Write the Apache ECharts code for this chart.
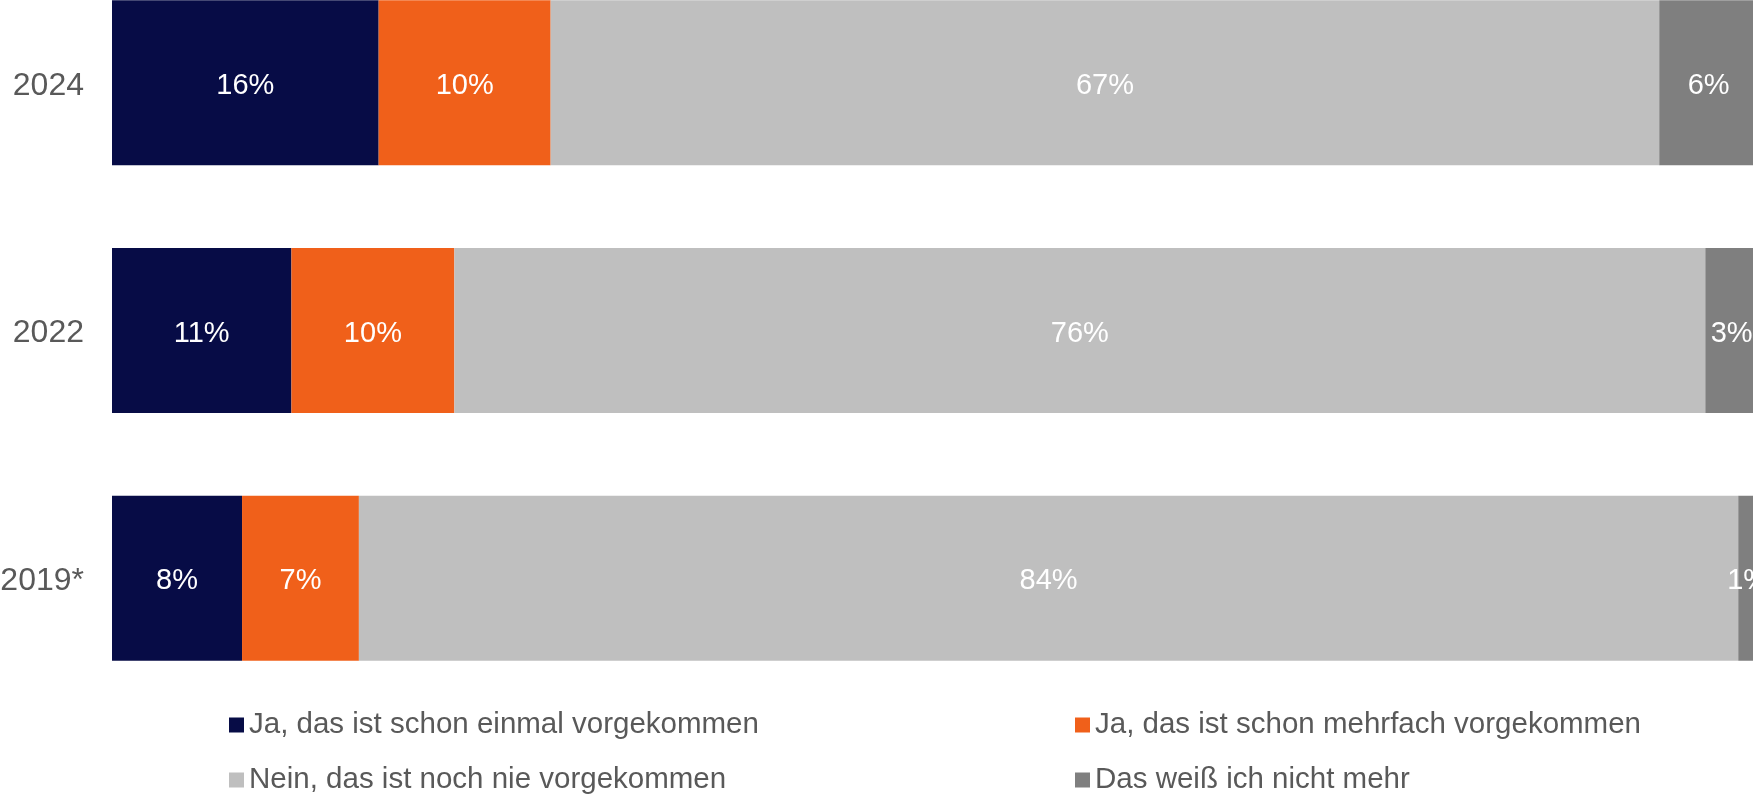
<!DOCTYPE html>
<html lang="de">
<head>
    <meta charset="UTF-8">
    <title>Vorfälle</title>
    <script type="text/javascript" src="https://cdn.jsdelivr.net/npm/echarts@6/dist/echarts.min.js"></script>
    <style>
        html, body { margin: 0; padding: 0; background: #fff; }
        #main { width: 1753px; height: 795px; }
    </style>
</head>
<body>
<div id="main"></div>
<script type="text/javascript">
    // Jahre (von oben nach unten)
    var years = ['2024', '2022', '2019*'];

    // Anteile in %
    var einmal = [16.2, 10.9, 7.9];
    var mehrfach = [10.45, 9.9, 7.1];
    var nie = [67.35, 76.0, 83.8];
    var weissNicht = [6.0, 3.2, 1.2];

    var names = [
        'Ja, das ist schon einmal vorgekommen',
        'Ja, das ist schon mehrfach vorgekommen',
        'Nein, das ist noch nie vorgekommen',
        'Das weiß ich nicht mehr'
    ];
    var colors = ['#070c46', '#f0601a', '#bfbfbf', '#7f7f7f'];

    const myChart = echarts.init(document.getElementById('main'));

    function bar(name, data, color) {
        return {
            name: name,
            type: 'bar',
            stack: 'total',
            barWidth: 165,
            data: data,
            itemStyle: { color: color },
            label: {
                show: true,
                position: 'inside',
                offset: [0, 3],
                color: '#ffffff',
                fontSize: 29,
                fontFamily: 'Liberation Sans, Arial, sans-serif',
                formatter: function (p) {
                    return Math.round(p.value) + '%';
                }
            },
            emphasis: { disabled: true }
        };
    }

    // ein Legendeneintrag pro Position (2 Spalten x 2 Zeilen)
    function legendItem(name, left, top) {
        return {
            data: [name],
            left: left,
            top: top,
            padding: 0,
            itemWidth: 15,
            itemHeight: 15,
            icon: 'rect',
            textStyle: {
                color: '#595959',
                fontSize: 29.5,
                fontFamily: 'Liberation Sans, Arial, sans-serif'
            }
        };
    }

    myChart.setOption({
        animation: false,
        color: colors,
        grid: {
            left: 112,
            width: 1646,
            top: -41,
            height: 743,
            outerBoundsMode: 'none',
            containLabel: false
        },
        legend: [
            legendItem(names[0], 229, 710),
            legendItem(names[1], 1075, 710),
            legendItem(names[2], 229, 765),
            legendItem(names[3], 1075, 765)
        ],
        xAxis: {
            type: 'value',
            min: 0,
            max: 100,
            show: false
        },
        yAxis: {
            type: 'category',
            data: years,
            inverse: true,
            axisLine: { show: false },
            axisTick: { show: false },
            axisLabel: {
                margin: 28,
                formatter: function (v) {
                    return '{y|' + v + '}';
                },
                rich: {
                    y: {
                        padding: [6, 0, 0, 0],
                        color: '#595959',
                        fontSize: 32,
                        fontFamily: 'Liberation Sans, Arial, sans-serif'
                    }
                }
            }
        },
        series: [
            bar(names[0], einmal, colors[0]),
            bar(names[1], mehrfach, colors[1]),
            bar(names[2], nie, colors[2]),
            bar(names[3], weissNicht, colors[3])
        ]
    });
</script>
</body>
</html>
